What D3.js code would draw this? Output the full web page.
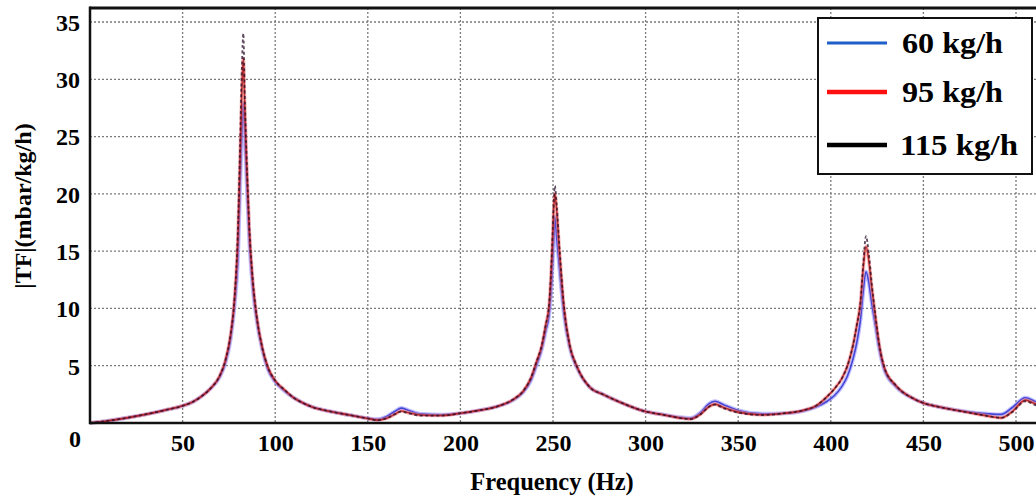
<!DOCTYPE html>
<html><head><meta charset="utf-8">
<script src="https://cdn.jsdelivr.net/npm/d3@7"></script>
<style>
html,body{margin:0;padding:0;background:#fff;}
svg{display:block;}
text{font-family:"Liberation Serif","Times New Roman",serif;font-weight:bold;fill:#000;}
</style></head>
<body>
<svg id="chart" width="1036" height="502"></svg>
<script>
// Frequency (Hz)
const freq = [0,10,20,30,40,50,55,60,65,70,73,76,78,80,81,82,82.8,83.5,84.5,86,88,90,93,96,100,105,110,115,120,130,140,150,155,160,165,168,172,178,190,200,210,220,228,234,238,241,244,246,248,249.5,250.5,251,252,253.5,256,259,263,270,277,285,300,310,318,324,330,334,337.5,342,350,363,375,385,392,398,402,406,409,412,414,416,417.5,419,420.5,422,424,426,429,435,445,450,460,475,485,492,498,505,510,515];
// |TF| (mbar/kg/h) for each mass flow
const tf60  = [0,0.2,0.45,0.75,1.1,1.5,1.8,2.3,3.0,4.0,5.2,7.4,10.2,15.0,20.5,25.5,27.9,25.5,21.5,16.0,11.6,9.0,6.4,4.7,3.6,2.8,2.2,1.75,1.4,1.0,0.7,0.42,0.32,0.55,1.05,1.3,1.1,0.8,0.72,0.85,1.1,1.45,1.95,2.7,3.7,5.0,6.5,8.0,9.6,13.0,16.5,18.0,16.2,13.5,9.4,6.6,4.8,3.1,2.5,1.9,1.0,0.72,0.5,0.42,0.95,1.65,1.9,1.6,1.1,0.8,0.85,1.05,1.4,1.9,2.4,3.2,4.1,5.6,7.0,9.0,11.5,13.2,12.3,10.6,8.6,6.6,4.6,3.2,2.1,1.75,1.35,0.95,0.8,0.75,1.35,2.2,1.9,1.5];
const tf95  = [0,0.2,0.45,0.75,1.1,1.5,1.8,2.3,3.0,4.1,5.4,7.8,10.8,17.0,23.0,29.0,31.8,28.0,23.0,17.0,12.2,9.3,6.6,4.9,3.7,2.9,2.2,1.75,1.4,1.0,0.7,0.4,0.25,0.4,0.8,1.05,0.9,0.7,0.65,0.85,1.1,1.45,2.0,2.8,3.9,5.3,6.8,8.5,10.5,15.0,19.0,20.0,18.5,15.0,10.0,6.8,4.9,3.1,2.5,1.9,1.0,0.7,0.45,0.35,0.8,1.4,1.65,1.35,0.95,0.7,0.85,1.1,1.5,2.3,3.0,3.9,5.0,6.8,8.5,10.5,13.5,15.4,14.2,12.0,9.4,7.0,4.8,3.3,2.1,1.75,1.35,0.9,0.6,0.45,1.0,2.0,1.7,1.35];
const tf115 = [0,0.2,0.45,0.75,1.1,1.5,1.8,2.3,3.0,4.1,5.4,7.8,10.8,17.5,24.0,31.0,34.0,29.0,23.5,17.2,12.3,9.3,6.6,4.9,3.7,2.9,2.2,1.75,1.4,1.0,0.7,0.4,0.25,0.4,0.8,1.0,0.85,0.65,0.65,0.85,1.1,1.45,2.0,2.8,3.9,5.3,6.8,8.5,10.5,15.3,19.6,20.7,19.0,15.3,10.0,6.8,4.9,3.1,2.5,1.9,1.0,0.7,0.45,0.35,0.8,1.4,1.6,1.3,0.9,0.7,0.85,1.1,1.5,2.3,3.0,3.9,5.0,6.8,8.5,10.5,13.8,16.3,14.8,12.3,9.5,7.0,4.8,3.3,2.1,1.75,1.35,0.9,0.6,0.45,0.95,1.9,1.6,1.3];
const xTicks = [50,100,150,200,250,300,350,400,450,500];
const yTicks = [5,10,15,20,25,30,35];
const seriesNames = ["60 kg/h","95 kg/h","115 kg/h"];
const xTitle = "Frequency (Hz)";
const yTitle = "|TF|(mbar/kg/h)";

const svg = d3.select("#chart");
const left = 90, topY = 8, bottom = 423;
const x = d3.scaleLinear().domain([0, 520]).range([left, left + 520 * 1.852]);
const y = d3.scaleLinear().domain([0, 35]).range([bottom, 22]);

// grid
const grid = svg.append("g");
grid.selectAll("line.gx").data(xTicks).join("line")
  .attr("x1", d => x(d)).attr("x2", d => x(d)).attr("y1", topY).attr("y2", bottom)
  .attr("stroke", "#7a7a7a").attr("stroke-width", 1.3).attr("stroke-dasharray", "2,2");
grid.selectAll("line.gy").data(yTicks).join("line")
  .attr("x1", left).attr("x2", 1036).attr("y1", d => y(d)).attr("y2", d => y(d))
  .attr("stroke", "#7a7a7a").attr("stroke-width", 1.3).attr("stroke-dasharray", "2,2");

// curves
const mk = vals => d3.line().x((d, i) => x(freq[i])).y(d => y(d)).curve(d3.curveMonotoneX)(vals);
const plot = svg.append("g");
plot.append("path").attr("d", mk(tf60)).attr("fill", "none").attr("stroke", "#8080ff").attr("stroke-width", 4).attr("stroke-opacity", 0.5);
plot.append("path").attr("d", mk(tf60)).attr("fill", "none").attr("stroke", "#3030d0").attr("stroke-width", 1.6).attr("stroke-opacity", 0.85);
plot.append("path").attr("d", mk(tf95)).attr("fill", "none").attr("stroke", "#f08080").attr("stroke-width", 3.6).attr("stroke-opacity", 0.55);
plot.append("path").attr("d", mk(tf95)).attr("fill", "none").attr("stroke", "#b81818").attr("stroke-width", 1.6).attr("stroke-opacity", 0.85);
plot.append("path").attr("d", mk(tf115)).attr("fill", "none").attr("stroke", "#2a0f2a").attr("stroke-width", 1.8).attr("stroke-opacity", 0.75).attr("stroke-dasharray", "3,2.5");

// axes frame
const xAxis = d3.axisBottom(x).tickValues(xTicks).tickSize(0).tickPadding(0);
const gx = svg.append("g").attr("transform", `translate(0,${bottom})`).call(xAxis);
gx.select(".domain").remove();
gx.selectAll("text").attr("y", 28).attr("dy", 0).style("font-size", "24px").style("font-family", null);
const yAxis = d3.axisLeft(y).tickValues(yTicks).tickSize(0).tickPadding(10);
const gy = svg.append("g").attr("transform", `translate(${left},0)`).call(yAxis);
gy.select(".domain").remove();
gy.selectAll("text").attr("x", -10).attr("dy", "0.35em").style("font-size", "24px").style("font-family", null);
svg.append("text").attr("x", 75).attr("y", 447).attr("text-anchor", "middle").style("font-size", "24px").text("0");

svg.append("line").attr("x1", left).attr("x2", 1036).attr("y1", bottom).attr("y2", bottom).attr("stroke", "#111").attr("stroke-width", 2.5);
svg.append("line").attr("x1", left).attr("x2", 1036).attr("y1", topY).attr("y2", topY).attr("stroke", "#111").attr("stroke-width", 3);
svg.append("line").attr("x1", left).attr("x2", left).attr("y1", topY - 1.5).attr("y2", bottom + 1.2).attr("stroke", "#111").attr("stroke-width", 2.5);

// titles
svg.append("text").attr("x", 552).attr("y", 490).attr("text-anchor", "middle").style("font-size", "24.5px").text(xTitle);
svg.append("text").attr("transform", "translate(31,206) rotate(-90)").attr("text-anchor", "middle").style("font-size", "24px").text(yTitle);

// legend
const lg = svg.append("g");
lg.append("rect").attr("x", 818).attr("y", 18).attr("width", 214).attr("height", 156).attr("fill", "#fff").attr("stroke", "#111").attr("stroke-width", 2);
const lcol = ["#1f5fc8", "#ff1010", "#000"];
const lwid = [3, 4.5, 4.5];
const ly = [43, 92, 145];
const lw = [101, 101, 118];
seriesNames.forEach((s, i) => {
  lg.append("line").attr("x1", 827).attr("x2", 887).attr("y1", ly[i]).attr("y2", ly[i]).attr("stroke", lcol[i]).attr("stroke-width", lwid[i]);
  lg.append("text").attr("x", i === 2 ? 900 : 902).attr("y", ly[i] + 10).style("font-size", "29px")
    .attr("textLength", lw[i]).attr("lengthAdjust", "spacingAndGlyphs").text(s);
});
</script>
</body></html>
